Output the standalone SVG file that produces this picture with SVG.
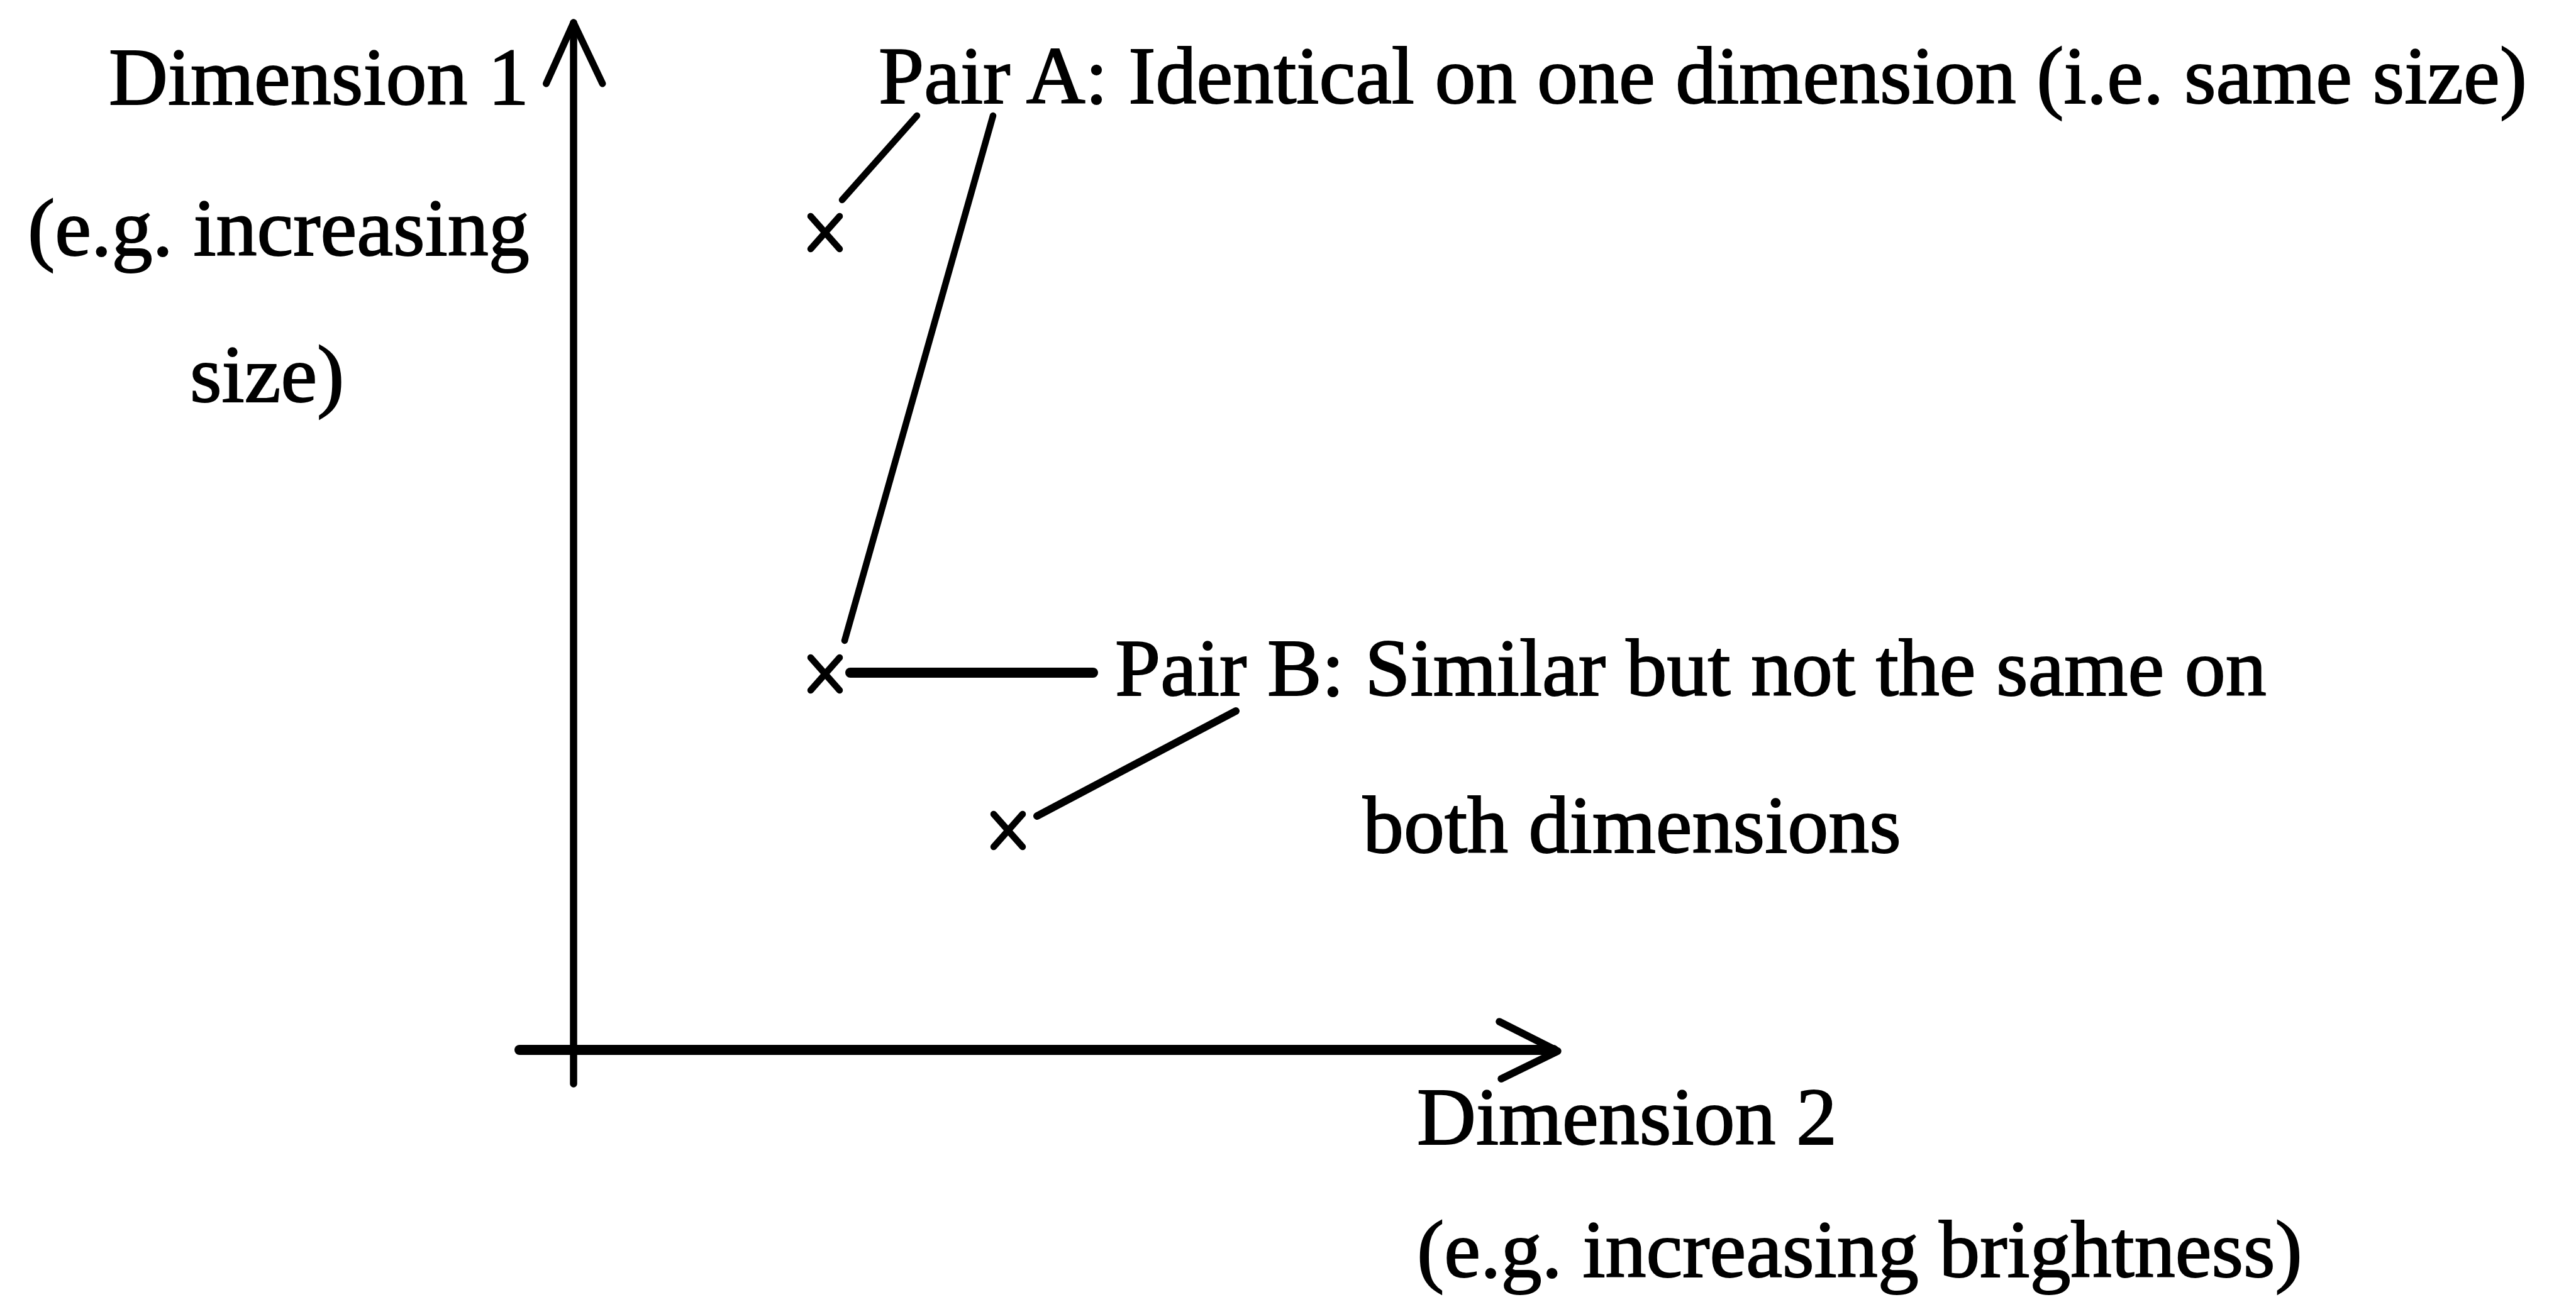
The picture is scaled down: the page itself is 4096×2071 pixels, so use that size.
<svg xmlns="http://www.w3.org/2000/svg" width="4096" height="2071" viewBox="0 0 4096 2071">
  <style>
    .t { font-family: "Liberation Serif", "Times New Roman", serif; font-size: 130px; fill: #000; stroke: #000; stroke-width: 2; }
    .ln { stroke: #000; fill: none; stroke-linecap: round; stroke-linejoin: round; }
    .mk { stroke: #000; stroke-width: 10.5; stroke-linecap: round; fill: none; }
  </style>
  <rect x="0" y="0" width="4096" height="2071" fill="#fff"/>

  <g id="axes">
    <line class="ln" x1="912" y1="36" x2="912" y2="1724" stroke-width="11.5"/>
    <polyline class="ln" points="868.5,133 912,36 958,133" stroke-width="11"/>
    <line class="ln" x1="826" y1="1670" x2="2470" y2="1670" stroke-width="16"/>
    <polyline class="ln" points="2384,1625 2477,1672 2387,1716" stroke-width="11.5"/>
  </g>

  <g id="label-dim1">
    <text class="t" x="173" y="166">Dimension 1</text>
    <text class="t" x="44" y="406">(e.g. increasing</text>
    <text class="t" x="302" y="639">size)</text>
  </g>

  <g id="label-dim2">
    <text class="t" x="2253" y="1820">Dimension 2</text>
    <text class="t" x="2253" y="2031">(e.g. increasing brightness)</text>
  </g>

  <g id="point-upper">
    <line class="mk" x1="1289" y1="344" x2="1335" y2="396"/>
    <line class="mk" x1="1335" y1="344" x2="1289" y2="396"/>
  </g>
  <g id="point-middle">
    <line class="mk" x1="1289" y1="1046" x2="1335" y2="1098"/>
    <line class="mk" x1="1335" y1="1046" x2="1289" y2="1098"/>
  </g>
  <g id="point-lower">
    <line class="mk" x1="1580" y1="1295" x2="1626" y2="1347"/>
    <line class="mk" x1="1626" y1="1295" x2="1580" y2="1347"/>
  </g>

  <g id="label-pairA">
    <text class="t" x="1397" y="164">Pair A: Identical on one dimension (i.e. same size)</text>
  </g>
  <g id="label-pairB">
    <text class="t" x="1773" y="1106">Pair B: Similar but not the same on</text>
    <text class="t" x="2167" y="1356">both dimensions</text>
  </g>

  <g id="connectors">
    <line class="ln" x1="1458" y1="184" x2="1339" y2="318" stroke-width="10.5"/>
    <line class="ln" x1="1579" y1="184" x2="1343" y2="1019" stroke-width="10.5"/>
    <line class="ln" x1="1352" y1="1070" x2="1738" y2="1070" stroke-width="16"/>
    <line class="ln" x1="1965" y1="1131" x2="1649" y2="1298" stroke-width="12"/>
  </g>
</svg>
